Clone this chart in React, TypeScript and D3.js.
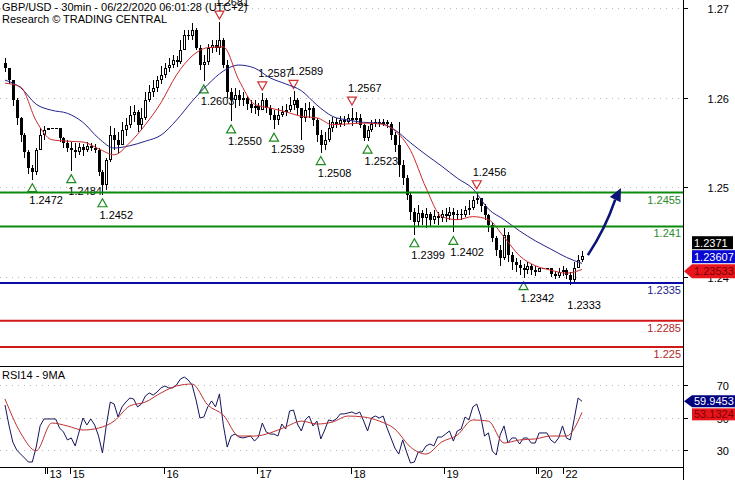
import React from 'react';
import * as d3 from 'd3';

// ---------- DATA ----------
const titleLine1 = 'GBP/USD - 30min - 06/22/2020 06:01:28 (UTC+2)';
const titleLine2 = 'Research \u00A9 TRADING CENTRAL';
const rsiTitle = 'RSI14 - 9MA';

const firstOpen = 1.2627;
const closes = [
  1.2620,1.2604,1.2578,1.2554,1.2531,1.2509,1.2488,1.2482,1.2511,1.2531,
  1.2538,1.2541,1.2541,1.2541,1.2527,1.2521,1.2514,1.2511,1.2509,1.2515,
  1.2511,1.2517,1.2514,1.2511,1.2482,1.2465,1.2498,1.2531,1.2525,1.2518,
  1.2538,1.2545,1.2558,1.2562,1.2545,1.2554,1.2578,1.2588,1.2594,1.2604,
  1.2611,1.2620,1.2624,1.2631,1.2628,1.2644,1.2664,1.2662,1.2670,1.2647,
  1.2624,1.2628,1.2647,1.2651,1.2647,1.2657,1.2624,1.2588,1.2578,1.2584,
  1.2578,1.2580,1.2572,1.2567,1.2570,1.2564,1.2578,1.2567,1.2558,1.2551,
  1.2558,1.2562,1.2564,1.2571,1.2578,1.2567,1.2554,1.2564,1.2567,1.2551,
  1.2531,1.2518,1.2525,1.2541,1.2549,1.2546,1.2551,1.2549,1.2554,1.2551,
  1.2554,1.2545,1.2527,1.2538,1.2546,1.2549,1.2546,1.2549,1.2546,1.2531,
  1.2518,1.2492,1.2474,1.2452,1.2429,1.2416,1.2428,1.2421,1.2427,1.2419,
  1.2424,1.2421,1.2427,1.2424,1.2429,1.2425,1.2427,1.2425,1.2432,1.2434,
  1.2445,1.2448,1.2437,1.2425,1.2412,1.2395,1.2379,1.2368,1.2399,1.2372,
  1.2363,1.2359,1.2355,1.2352,1.2358,1.2352,1.2350,1.2355,1.2355,1.2355,
  1.2347,1.2344,1.2350,1.2352,1.2346,1.2339,1.2355,1.2366,1.2371,
];
const highs = [
  1.2633,1.2620,1.2602,1.2580,1.2555,1.2534,1.2511,1.2492,1.2514,1.2541,
  1.2543,1.2541,1.2541,1.2541,1.2541,1.2529,1.2525,1.2522,1.2521,1.2521,
  1.2519,1.2522,1.2521,1.2519,1.2514,1.2485,1.2501,1.2543,1.2541,1.2535,
  1.2549,1.2554,1.2570,1.2571,1.2564,1.2567,1.2588,1.2598,1.2604,1.2610,
  1.2623,1.2627,1.2633,1.2637,1.2636,1.2657,1.2670,1.2670,1.2680,1.2673,
  1.2651,1.2637,1.2652,1.2657,1.2657,1.2681,1.2660,1.2631,1.2594,1.2594,
  1.2591,1.2588,1.2583,1.2578,1.2578,1.2574,1.2587,1.2580,1.2571,1.2564,
  1.2567,1.2570,1.2572,1.2582,1.2589,1.2580,1.2567,1.2574,1.2575,1.2570,
  1.2554,1.2538,1.2535,1.2551,1.2555,1.2554,1.2556,1.2556,1.2559,1.2567,
  1.2562,1.2559,1.2546,1.2543,1.2551,1.2553,1.2553,1.2553,1.2551,1.2549,
  1.2535,1.2549,1.2498,1.2478,1.2454,1.2435,1.2438,1.2432,1.2435,1.2429,
  1.2432,1.2429,1.2432,1.2435,1.2436,1.2435,1.2432,1.2433,1.2437,1.2445,
  1.2450,1.2456,1.2448,1.2440,1.2427,1.2416,1.2397,1.2385,1.2408,1.2403,
  1.2376,1.2368,1.2366,1.2360,1.2363,1.2360,1.2358,1.2355,1.2355,1.2355,
  1.2355,1.2351,1.2355,1.2358,1.2355,1.2350,1.2363,1.2372,1.2377,
];
const lows = [
  1.2615,1.2599,1.2570,1.2545,1.2522,1.2501,1.2480,1.2472,1.2478,1.2514,
  1.2525,1.2538,1.2541,1.2541,1.2522,1.2514,1.2509,1.2484,1.2501,1.2505,
  1.2503,1.2509,1.2510,1.2507,1.2477,1.2452,1.2458,1.2495,1.2511,1.2507,
  1.2518,1.2530,1.2541,1.2549,1.2535,1.2538,1.2551,1.2575,1.2582,1.2588,
  1.2599,1.2607,1.2615,1.2620,1.2621,1.2625,1.2651,1.2657,1.2657,1.2644,
  1.2617,1.2603,1.2624,1.2640,1.2641,1.2637,1.2620,1.2580,1.2550,1.2567,
  1.2570,1.2570,1.2564,1.2560,1.2559,1.2556,1.2564,1.2560,1.2551,1.2539,
  1.2545,1.2555,1.2556,1.2562,1.2564,1.2558,1.2525,1.2549,1.2554,1.2543,
  1.2522,1.2508,1.2511,1.2522,1.2535,1.2541,1.2542,1.2543,1.2546,1.2543,
  1.2546,1.2541,1.2523,1.2523,1.2535,1.2542,1.2542,1.2543,1.2541,1.2525,
  1.2509,1.2476,1.2465,1.2445,1.2419,1.2399,1.2411,1.2412,1.2408,1.2411,
  1.2413,1.2412,1.2416,1.2416,1.2419,1.2402,1.2419,1.2419,1.2423,1.2425,
  1.2432,1.2440,1.2429,1.2419,1.2403,1.2389,1.2371,1.2358,1.2366,1.2363,
  1.2352,1.2350,1.2346,1.2342,1.2347,1.2346,1.2344,1.2350,1.2355,1.2355,
  1.2343,1.2340,1.2342,1.2344,1.2340,1.2333,1.2336,1.2358,1.2363,
];

const maIndex = [0,4,8,12,16,20,24,28,32,36,40,44,48,52,56,60,64,68,72,76,80,84,88,92,96,100,104,108,112,116,120,124,128,132,136,140,144,148];
const redMA = [1.2600,1.2595,1.2550,1.2525,1.2523,1.2522,1.2513,1.2505,1.2521,1.2545,1.2574,1.2611,1.2636,1.2647,1.2648,1.2604,1.2572,1.2567,1.2562,1.2556,1.2554,1.2545,1.2546,1.2547,1.2546,1.2537,1.2511,1.2461,1.2423,1.2419,1.2423,1.2419,1.2396,1.2371,1.2358,1.2352,1.2348,1.2353];
const blueMA = [1.2604,1.2594,1.2572,1.2564,1.2560,1.2548,1.2527,1.2514,1.2517,1.2523,1.2531,1.2551,1.2576,1.2598,1.2616,1.2624,1.2620,1.2607,1.2599,1.2590,1.2571,1.2556,1.2551,1.2548,1.2547,1.2538,1.2521,1.2505,1.2490,1.2474,1.2460,1.2433,1.2419,1.2404,1.2391,1.2380,1.2369,1.2361];

const rsi = [
  57.7,45.4,34.9,30.0,27.5,25.1,22.6,22.6,31.8,44.8,
  49.1,49.1,49.1,49.1,43.5,41.1,36.2,37.4,32.5,41.1,
  49.7,45.4,49.1,45.4,38.6,28.2,45.4,59.5,58.3,50.3,
  56.5,59.5,62.0,61.4,56.5,58.3,63.2,65.1,63.8,65.7,
  68.2,69.4,68.2,68.2,70.0,73.7,74.9,73.1,70.0,60.8,
  49.7,50.3,56.5,60.2,56.5,64.5,45.4,31.8,38.6,39.8,
  38.0,37.4,38.0,38.6,35.5,38.0,46.6,41.1,39.8,39.8,
  38.6,46.0,42.9,54.0,54.6,46.0,41.7,48.5,50.9,44.8,
  47.8,36.8,42.3,48.5,47.8,49.1,52.2,52.2,52.8,53.4,
  52.2,53.4,47.8,41.7,49.7,50.9,49.7,50.9,43.5,37.4,
  31.2,27.5,36.2,28.8,22.0,22.6,28.8,28.8,32.5,33.7,
  32.5,38.0,38.0,39.8,41.7,35.5,41.7,42.9,50.3,48.5,
  56.5,58.3,50.9,38.6,40.5,29.4,26.9,39.2,44.8,34.3,
  37.4,37.4,33.7,37.4,37.4,34.3,34.3,40.5,40.5,40.5,
  36.2,34.3,37.4,44.8,37.4,36.2,49.1,62.0,59.9453,
];
const rsiMA = [61.4,40.5,29.5,46.6,44.8,42.3,43.5,47.8,57.1,59.5,65.1,69.4,70.6,57.7,51.5,38.6,38.6,40.5,44.2,47.8,46.0,47.2,50.9,50.3,47.8,42.9,31.8,27.5,34.9,39.2,48.5,47.8,34.3,36.2,36.8,38.6,38.6,53.1324];

const priceTicks = [1.27, 1.26, 1.25, 1.24];
const rsiTicks = [70, 50, 30];

const levelPrices = [1.2455, 1.241, 1.2335, 1.2285, 1.225];
const levelLabels = ['1.2455', '1.241', '1.2335', '1.2285', '1.225'];
const levelKinds = ['res', 'res', 'pivot', 'sup', 'sup'];

const pivotLowIdx = [7, 17, 25, 51, 58, 69, 81, 93, 105, 115, 133, 145];
const pivotLowVal = [1.2472, 1.2484, 1.2452, 1.2603, 1.2550, 1.2539, 1.2508, 1.2523, 1.2399, 1.2402, 1.2342, 1.2333];
const pivotLowMark = [true, true, true, true, true, true, true, true, true, true, true, false];
const pivotHighIdx = [55, 66, 74, 89, 121];
const pivotHighVal = [1.2681, 1.2587, 1.2589, 1.2567, 1.2456];

const dayTickIdx = [10.2, 16.7, 40.8, 64.6, 88.7, 112.5, 136.2, 143.0];
const dayLabels = ['13', '15', '16', '17', '18', '19', '20', '22'];
const dayDouble = [true, false, false, false, false, false, true, false];

const arrowFrom = { i: 149.5, p: 1.2372 };
const arrowTo = { i: 158, p: 1.2461 };

const lastClose = 1.2371;
const lastBlue = 1.23607;
const lastRed = 1.23533;
const lastRsi = 59.9453;
const lastRsiMA = 53.1324;

// ---------- CHART ----------
const FONT = 'Arial, "Liberation Sans", sans-serif';
const AX = 683;

export default function App() {
  const xS = d3.scaleLinear().domain([0, 148]).range([5, 582]);
  const yP = d3.scaleLinear().domain([1.2335, 1.2455]).range([283, 192.5]);
  const yAxis = d3.scaleLinear().domain([1.24, 1.27]).range([277, 8]);
  const yR = d3.scaleLinear().domain([30, 70]).range([450, 385]);

  const opens = closes.map((c, i) => (i === 0 ? firstOpen : closes[i - 1]));

  const maLine = d3
    .line<number>()
    .x((_, k) => xS(maIndex[k]))
    .y((v) => yP(v))
    .curve(d3.curveMonotoneX);
  const maRLine = d3
    .line<number>()
    .x((_, k) => xS(maIndex[k]))
    .y((v) => yR(v))
    .curve(d3.curveMonotoneX);
  const rsiLine = d3
    .line<number>()
    .x((_, i) => xS(i))
    .y((v) => yR(v));

  const levelColor: Record<string, string> = { res: '#0c8a0c', pivot: '#0a0aa8', sup: '#d01818' };
  const levelText: Record<string, string> = { res: '#2a8a2a', pivot: '#1c1c8c', sup: '#b02828' };

  // arrow geometry
  const ax0 = xS(arrowFrom.i), ay0 = yP(arrowFrom.p);
  const ax1 = xS(arrowTo.i), ay1 = yP(arrowTo.p);
  const dx = ax1 - ax0, dy = ay1 - ay0;
  const len = Math.hypot(dx, dy);
  const ux = dx / len, uy = dy / len;
  const headL = 13, headW = 6;
  const bx = ax1 - ux * headL, by = ay1 - uy * headL;
  const px = -uy, py = ux;
  const cx = (ax0 + bx) / 2 + px * 4, cy = (ay0 + by) / 2 + py * 4;

  const redCenter = yP(lastRed) + 2;
  const blueCenter = redCenter - 14.5;
  const blackCenter = blueCenter - 14;
  const rsiCenter = yR(lastRsi);
  const rsiMACenter = rsiCenter + 13;

  return (
    <svg
      width={735}
      height={480}
      style={{ position: 'absolute', left: 0, top: 0, background: '#fff' }}
      fontFamily={FONT}
    >
      <rect x={0} y={0} width={735} height={480} fill="#fff" />

      {/* grid */}
      {priceTicks.map((t) => (
        <line key={'g' + t} x1={0} x2={AX} y1={Math.round(yAxis(t)) + 0.5} y2={Math.round(yAxis(t)) + 0.5}
          stroke="#b8b8b8" strokeDasharray="1 5" />
      ))}
      {rsiTicks.map((t) => (
        <line key={'rg' + t} x1={0} x2={AX} y1={Math.round(yR(t)) + 0.5} y2={Math.round(yR(t)) + 0.5}
          stroke="#b8b8b8" strokeDasharray="1 5" />
      ))}

      {/* pivot labels (below candles) */}
      {pivotLowIdx.map((idx, k) => {
        const x = xS(idx);
        const y = yP(pivotLowVal[k]);
        return (
          <g key={'pl' + k}>
            {pivotLowMark[k] && (
              <polygon points={`${x},${y + 4} ${x - 4.5},${y + 12} ${x + 4.5},${y + 12}`}
                fill="none" stroke="#1f8a1f" strokeWidth={1.2} />
            )}
            <text x={x - 3} y={y + 24} fontSize={11} fill="#000">{pivotLowVal[k].toFixed(4)}</text>
          </g>
        );
      })}
      {pivotHighIdx.map((idx, k) => {
        const x = xS(idx);
        const y = yP(pivotHighVal[k]);
        return (
          <g key={'ph' + k}>
            <polygon points={`${x - 4.5},${y - 11} ${x + 4.5},${y - 11} ${x},${y - 3}`}
              fill="none" stroke="#d03030" strokeWidth={1.2} />
            <text x={x - 4} y={y - 16} fontSize={11} fill="#000">{pivotHighVal[k].toFixed(4)}</text>
          </g>
        );
      })}

      {/* candles */}
      <g shapeRendering="crispEdges">
        {closes.map((c, i) => {
          const o = opens[i];
          const hi = Math.max(highs[i], o, c);
          const lo = Math.min(lows[i], o, c);
          const x = Math.round(xS(i));
          const yTop = Math.round(yP(Math.max(o, c)));
          const yBot = Math.round(yP(Math.min(o, c)));
          const bh = Math.max(1, yBot - yTop);
          const up = c > o;
          const yh = Math.round(yP(hi));
          const yl = Math.round(yP(lo));
          return (
            <g key={'c' + i}>
              <rect x={x} y={yh} width={1} height={Math.max(1, yl - yh)} fill="#000" />
              <rect x={x - 1} y={yTop} width={3} height={bh} fill="#000" />
              {up && bh > 2 && <rect x={x} y={yTop + 1} width={1} height={bh - 2} fill="#fff" />}
            </g>
          );
        })}
      </g>

      {/* moving averages */}
      <path d={maLine(blueMA) || ''} fill="none" stroke="#23238c" strokeWidth={1} />
      <path d={maLine(redMA) || ''} fill="none" stroke="#cc2a2a" strokeWidth={1} />

      {/* level lines */}
      {levelPrices.map((p, k) => {
        const y = yP(p);
        return (
          <g key={'lv' + k}>
            <line x1={0} x2={AX} y1={y} y2={y} stroke={levelColor[levelKinds[k]]} strokeWidth={2} />
            <text x={681} y={y + 11} fontSize={11} textAnchor="end" fill={levelText[levelKinds[k]]}>
              {levelLabels[k]}
            </text>
          </g>
        );
      })}

      {/* projection arrow */}
      <path d={`M${ax0},${ay0} Q${cx},${cy} ${bx},${by}`} fill="none" stroke="#0c1478" strokeWidth={2.6} />
      <polygon
        points={`${ax1},${ay1} ${bx + px * headW},${by + py * headW} ${bx - px * headW},${by - py * headW}`}
        fill="#0c1478"
      />

      {/* RSI */}
      <path d={rsiLine(rsi) || ''} fill="none" stroke="#14145e" strokeWidth={1} />
      <path d={maRLine(rsiMA) || ''} fill="none" stroke="#c03030" strokeWidth={1} />

      {/* frame */}
      <g shapeRendering="crispEdges">
        <line x1={0} x2={AX} y1={366.5} y2={366.5} stroke="#000" />
        <line x1={0} x2={AX} y1={467.5} y2={467.5} stroke="#000" />
        <line x1={AX + 0.5} x2={AX + 0.5} y1={0} y2={480} stroke="#000" />
      </g>

      {/* right axis price */}
      {priceTicks.map((t) => {
        const y = Math.round(yAxis(t)) + 0.5;
        return (
          <g key={'pt' + t}>
            <line x1={AX} x2={AX + 5} y1={y} y2={y} stroke="#000" shapeRendering="crispEdges" />
            <text x={729} y={y + 4} fontSize={11} textAnchor="end" fill="#000">{t.toFixed(2)}</text>
          </g>
        );
      })}
      {rsiTicks.map((t) => {
        const y = Math.round(yR(t)) + 0.5;
        return (
          <g key={'rt' + t}>
            <line x1={AX} x2={AX + 5} y1={y} y2={y} stroke="#000" shapeRendering="crispEdges" />
            <text x={729} y={y + 4} fontSize={11} textAnchor="end" fill="#000">{t}</text>
          </g>
        );
      })}

      {/* value tags */}
      <rect x={692} y={blackCenter - 6.5} width={41} height={13} fill="#000" />
      <text x={694} y={blackCenter + 4} fontSize={11} fill="#fff">{lastClose.toFixed(4)}</text>
      <rect x={692} y={blueCenter - 6.5} width={43} height={13} fill="#0808d0" />
      <text x={694} y={blueCenter + 4} fontSize={11} fill="#fff">{lastBlue.toFixed(5)}</text>
      <polygon
        points={`684,${redCenter} 692,${redCenter - 7} 735,${redCenter - 7} 735,${redCenter + 7} 692,${redCenter + 7}`}
        fill="#e8161c"
      />
      <text x={694} y={redCenter + 4} fontSize={11} fill="#7a0000">{lastRed.toFixed(5)}</text>

      <polygon
        points={`684,${rsiCenter} 692,${rsiCenter - 6} 735,${rsiCenter - 6} 735,${rsiCenter + 6} 692,${rsiCenter + 6}`}
        fill="#00007e"
      />
      <text x={694} y={rsiCenter + 4} fontSize={11} fill="#fff">{lastRsi.toFixed(4)}</text>
      <rect x={692} y={rsiMACenter - 6} width={43} height={12} fill="#e8161c" />
      <text x={694} y={rsiMACenter + 4} fontSize={11} fill="#7a0000">{lastRsiMA.toFixed(4)}</text>

      {/* bottom day axis */}
      {dayTickIdx.map((t, k) => {
        const x = Math.round(xS(t)) + 0.5;
        return (
          <g key={'d' + k}>
            <line x1={x} x2={x} y1={468} y2={474} stroke="#000" shapeRendering="crispEdges" />
            {dayDouble[k] && (
              <line x1={x + 2} x2={x + 2} y1={468} y2={474} stroke="#000" shapeRendering="crispEdges" />
            )}
            <text x={x + (dayDouble[k] ? 4 : 2)} y={478} fontSize={11} fill="#000">{dayLabels[k]}</text>
          </g>
        );
      })}

      {/* titles */}
      <text x={2} y={11} fontSize={11} fill="#000">{titleLine1}</text>
      <text x={2} y={23} fontSize={11} fill="#000">{titleLine2}</text>
      <text x={2} y={379} fontSize={11} fill="#000">{rsiTitle}</text>
    </svg>
  );
}
